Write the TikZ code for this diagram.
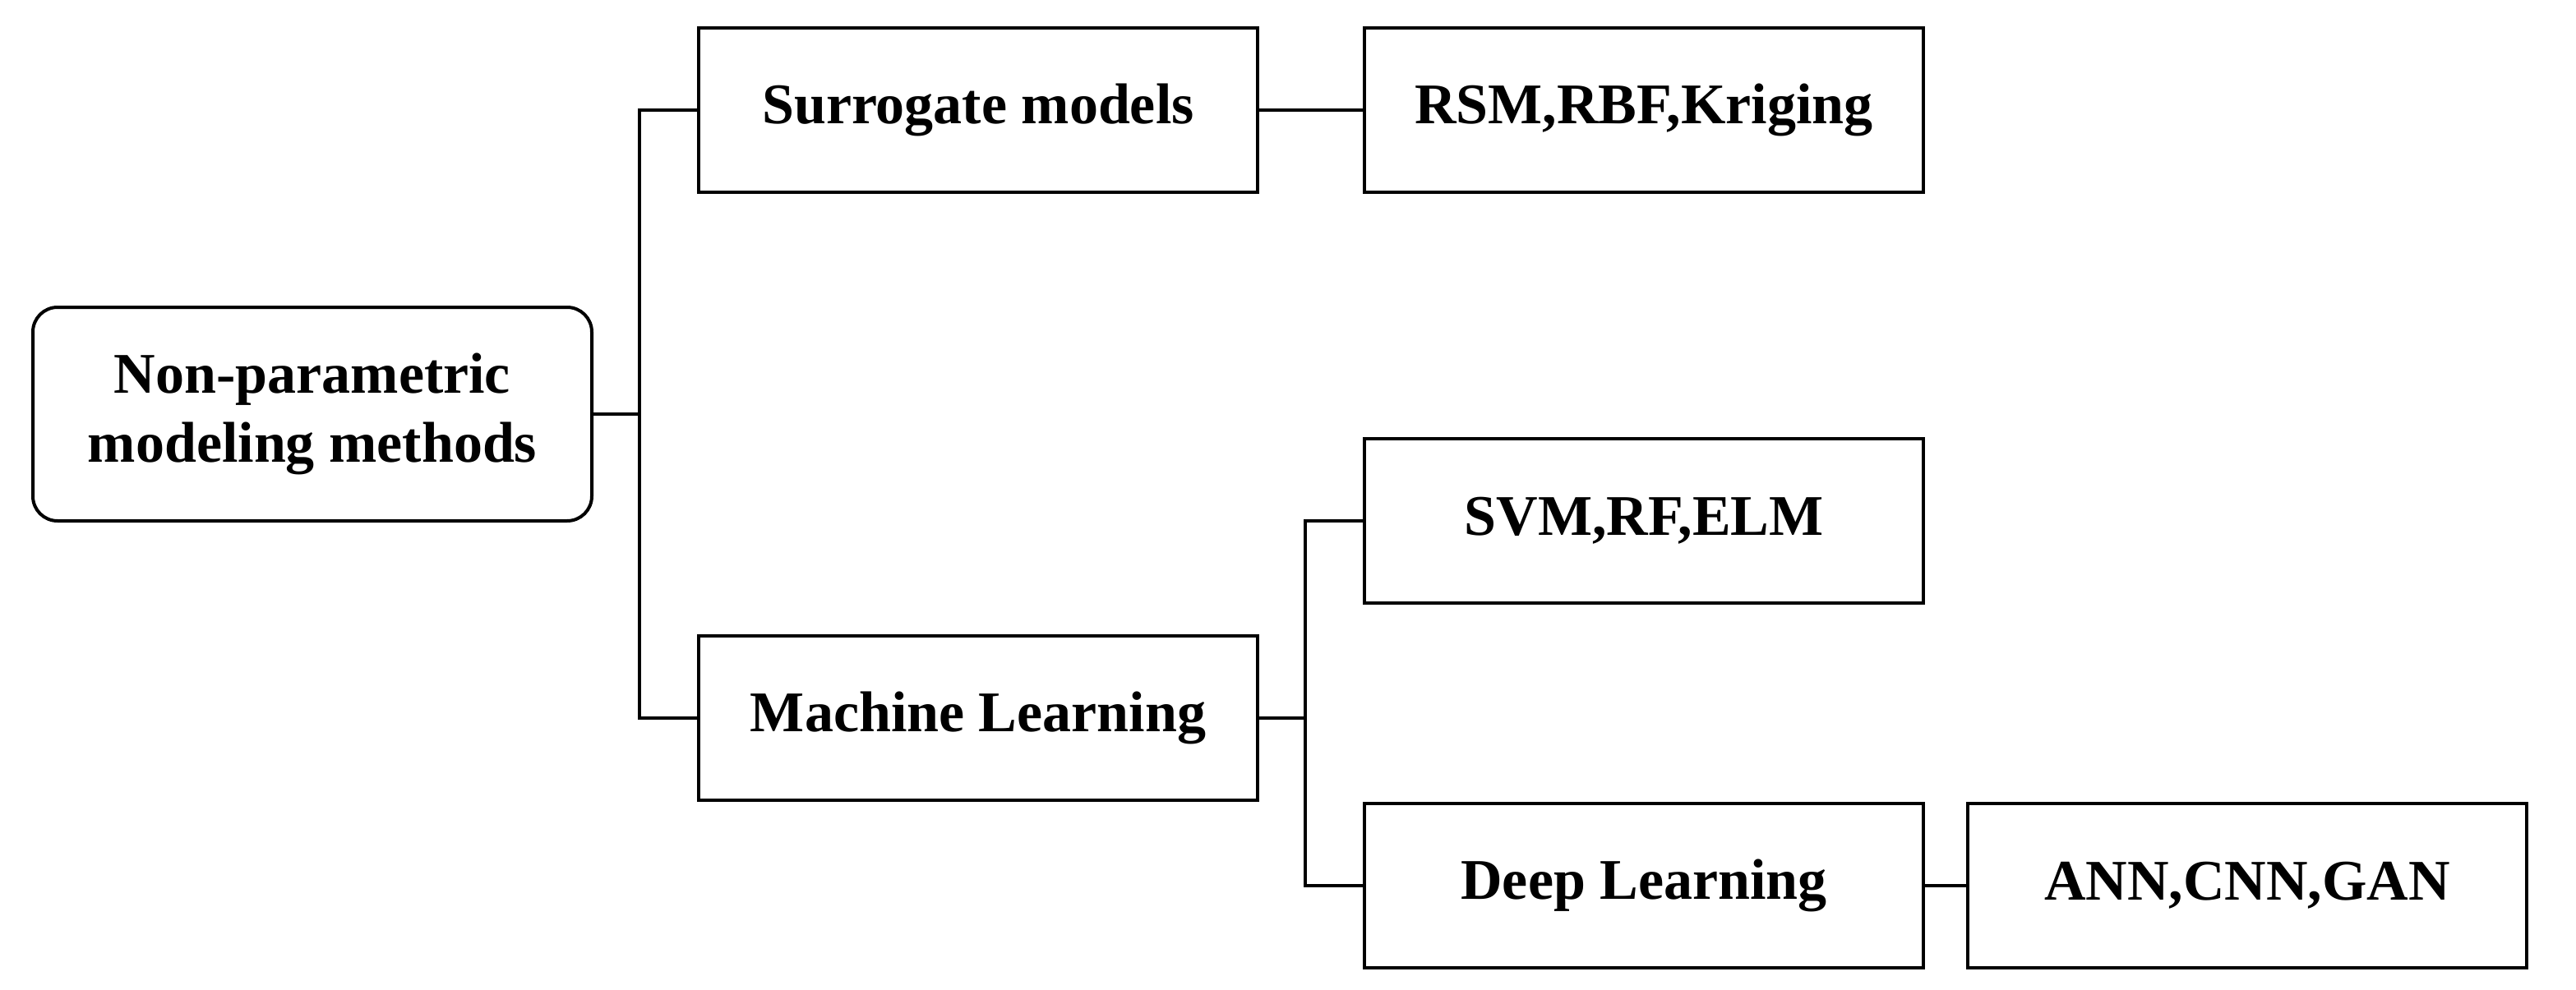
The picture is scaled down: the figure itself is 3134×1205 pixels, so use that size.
\documentclass[tikz,border=0pt]{standalone}
\usepackage{fontspec}
\setmainfont{Liberation Serif}
\begin{document}
\begin{tikzpicture}[x=0.5pt,y=-0.5pt,
  box/.style={draw,line width=2pt,minimum width=340pt,minimum height=100pt,inner sep=0pt,font=\fontsize{35}{42}\selectfont\bfseries,align=center},
  ln/.style={line width=2pt}]
\useasboundingbox (0,0) rectangle (3134,1205);
\node[box,rounded corners=15pt,minimum height=130pt] (root) at (380,504) {Non-parametric\\modeling methods};
\node[box] (sur) at (1190,134) {Surrogate models};
\node[box] (rsm) at (2000,134) {RSM,RBF,Kriging};
\node[box] (svm) at (2000,634) {SVM,RF,ELM};
\node[box] (ml) at (1190,874) {Machine Learning};
\node[box] (dl) at (2000,1078) {Deep Learning};
\node[box] (ann) at (2734,1078) {ANN,CNN,GAN};
\coordinate (t) at (778,504);
\draw[ln] (root.east) -- (t);
\draw[ln] (sur.west) -| (t) |- (ml.west);
\draw[ln] (sur) -- (rsm);
\coordinate (m) at (1588,874);
\draw[ln] (ml.east) -- (m);
\draw[ln] (svm.west) -| (m) |- (dl.west);
\draw[ln] (dl) -- (ann);
\end{tikzpicture}
\end{document}
